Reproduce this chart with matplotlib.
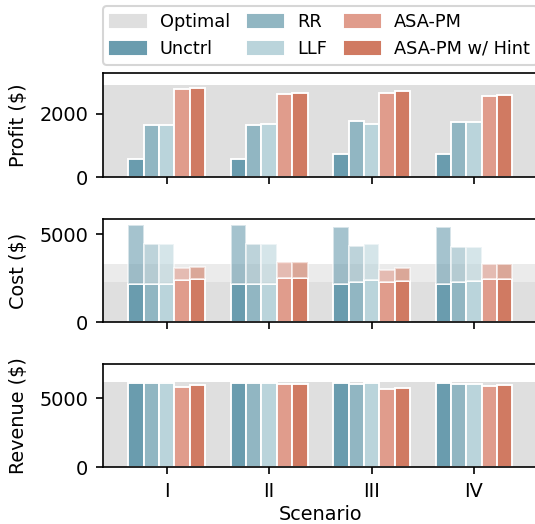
import numpy as np
import matplotlib.pyplot as plt

# scenarios and methods
scenarios = ["I", "II", "III", "IV"]
methods = ["Unctrl", "RR", "LLF", "ASA-PM", "ASA-PM w/ Hint"]
colors = ["#6a9cae", "#91b6c2", "#bad4db", "#e09c8c", "#d07a62"]
opt_color = "#dfdfdf"

# Profit ($)
profit_unctrl = [580, 580, 735, 735]
profit_rr = [1645, 1645, 1770, 1740]
profit_llf = [1645, 1665, 1665, 1750]
profit_asa = [2765, 2620, 2660, 2555]
profit_hint = [2820, 2650, 2715, 2590]
profit_opt = 2900

# Cost ($): lower part and total
cost_low_unctrl = [2190, 2190, 2190, 2190]
cost_low_rr = [2190, 2190, 2265, 2265]
cost_low_llf = [2190, 2190, 2380, 2320]
cost_low_asa = [2400, 2490, 2300, 2435]
cost_low_hint = [2435, 2490, 2340, 2435]
cost_tot_unctrl = [5525, 5525, 5375, 5375]
cost_tot_rr = [4450, 4450, 4300, 4280]
cost_tot_llf = [4450, 4415, 4430, 4280]
cost_tot_asa = [3075, 3395, 2975, 3315]
cost_tot_hint = [3150, 3395, 3055, 3315]
cost_opt_low = 2300
cost_opt_tot = 3320

# Revenue ($)
rev_unctrl = [6110, 6110, 6110, 6110]
rev_rr = [6110, 6085, 6060, 6035]
rev_llf = [6110, 6085, 6085, 6060]
rev_asa = [5840, 6035, 5675, 5870]
rev_hint = [5985, 6060, 5790, 5940]
rev_opt = 6200

profit = [profit_unctrl, profit_rr, profit_llf, profit_asa, profit_hint]
cost_low = [cost_low_unctrl, cost_low_rr, cost_low_llf, cost_low_asa, cost_low_hint]
cost_tot = [cost_tot_unctrl, cost_tot_rr, cost_tot_llf, cost_tot_asa, cost_tot_hint]
revenue = [rev_unctrl, rev_rr, rev_llf, rev_asa, rev_hint]

plt.rcParams["font.size"] = 9.25
plt.rcParams["axes.linewidth"] = 0.8

W, H = 535, 524
fig = plt.figure(figsize=(W / 150, H / 150), dpi=150)

def make_ax(top, bottom):
    left, right = 102.7, 538
    return fig.add_axes([left / W, 1 - bottom / H, (right - left) / W, (bottom - top) / H])

ax_p = make_ax(73, 177.3)
ax_c = make_ax(219, 322.3)
ax_r = make_ax(364, 467.3)

x = np.arange(len(scenarios))
bw = 0.15
offsets = (np.arange(len(methods)) - 2) * bw

# Profit
ax_p.axhspan(0, profit_opt, color=opt_color, lw=0, zorder=0)
for i, m in enumerate(methods):
    ax_p.bar(x + offsets[i], profit[i], bw, color=colors[i], edgecolor="white", lw=0.9, zorder=2)
ax_p.set_ylim(0, 3280)
ax_p.set_yticks([0, 2000])
ax_p.set_ylabel("Profit ($)")

# Cost
ax_c.axhspan(0, cost_opt_low, color=opt_color, lw=0, zorder=0)
ax_c.axhspan(cost_opt_low, cost_opt_tot, color=opt_color, alpha=0.6, lw=0, zorder=0)
for i, m in enumerate(methods):
    low = np.array(cost_low[i])
    tot = np.array(cost_tot[i])
    ax_c.bar(x + offsets[i], low, bw, color=colors[i], edgecolor="white", lw=0.9, zorder=2)
    ax_c.bar(x + offsets[i], tot - low, bw, bottom=low, color=colors[i], alpha=0.6,
             edgecolor="white", lw=0.9, zorder=2)
ax_c.set_ylim(0, 5850)
ax_c.set_yticks([0, 5000])
ax_c.set_ylabel("Cost ($)")

# Revenue
ax_r.axhspan(0, rev_opt, color=opt_color, lw=0, zorder=0)
for i, m in enumerate(methods):
    ax_r.bar(x + offsets[i], revenue[i], bw, color=colors[i], edgecolor="white", lw=0.9, zorder=2)
ax_r.set_ylim(0, 7500)
ax_r.set_yticks([0, 5000])
ax_r.set_ylabel("Revenue ($)")

for ax in (ax_p, ax_c, ax_r):
    ax.set_xlim(-0.625, 3.625)
    ax.set_xticks(x)
    ax.yaxis.set_label_coords(-0.171, 0.5)
ax_p.set_xticklabels([])
ax_c.set_xticklabels([])
ax_r.set_xticklabels(scenarios)
ax_r.set_xlabel("Scenario", labelpad=2)

# legend
handles = [plt.Rectangle((0, 0), 1, 1, color=opt_color)]
handles += [plt.Rectangle((0, 0), 1, 1, color=c) for c in colors]
labels = ["Optimal"] + methods
fig.legend(handles, labels, ncol=3, loc="upper left", bbox_to_anchor=(103 / W, 1 - 6 / H),
           borderaxespad=0, columnspacing=1.0, fontsize=8.5, fancybox=True)

fig.savefig("out.png", dpi=150)
